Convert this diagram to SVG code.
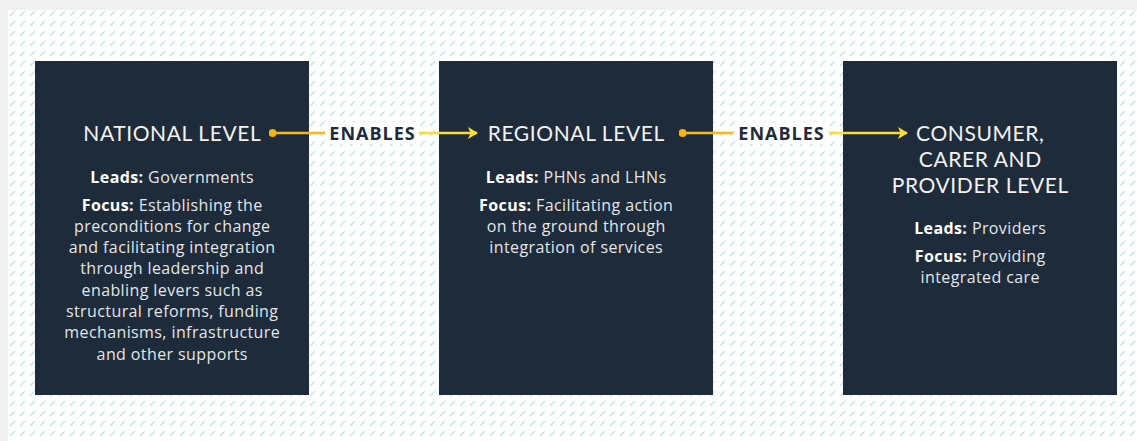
<svg xmlns="http://www.w3.org/2000/svg" width="1137" height="441" viewBox="0 0 1137 441">
  <style>
    .box { fill: #1d2b3a; }
    .title { font-family: Lato, "Liberation Sans", sans-serif; font-size: 21px; letter-spacing: 0.6px; fill: #f2f2f2; text-anchor: middle; }
    .body { font-family: "Open Sans", "Liberation Sans", sans-serif; font-size: 16px; letter-spacing: 0.4px; fill: #e4e6e8; text-anchor: middle; }
    .b { font-weight: bold; fill: #ffffff; }
    .lbl { font-family: "Open Sans", "Liberation Sans", sans-serif; font-size: 18px; letter-spacing: 1px; font-weight: bold; fill: #1d2b3a; text-anchor: middle; }
    .lineL { stroke: #f7ba12; stroke-width: 2.5; fill: none; }
    .lineR { stroke: #fbdc32; stroke-width: 2.5; fill: none; }
  </style>
  <defs>
    <pattern id="dash" x="8" y="10" width="10" height="10" patternUnits="userSpaceOnUse">
      <line x1="2.5" y1="5.5" x2="6.5" y2="1.5" stroke="#c4e7eb" stroke-width="1.6" stroke-linecap="round"/>
    </pattern>
    <marker id="arrow" viewBox="0 0 10 10" refX="9" refY="5" markerWidth="10" markerHeight="12" markerUnits="userSpaceOnUse" orient="auto" preserveAspectRatio="none">
      <path d="M0,0 L10,5 L0,10 L2.5,5 Z" fill="#fbdc32"/>
    </marker>
    <marker id="dot" viewBox="0 0 10 10" refX="5" refY="5" markerWidth="8" markerHeight="8" markerUnits="userSpaceOnUse">
      <circle cx="5" cy="5" r="5" fill="#f5b40f"/>
    </marker>
  </defs>

  <rect x="0" y="0" width="1137" height="441" fill="#f0f0f0"/>
  <rect x="8" y="10" width="1129" height="431" fill="#ffffff"/>
  <rect x="8" y="10" width="1129" height="431" fill="url(#dash)"/>

  <g id="node-national">
    <rect class="box" x="35" y="61" width="274" height="334"/>
    <text class="title" x="172.3" y="141">NATIONAL LEVEL</text>
    <text class="body" x="172.2" y="183"><tspan class="b">Leads:</tspan> Governments</text>
    <text class="body" x="172.2" y="210.5"><tspan class="b">Focus:</tspan> Establishing the</text>
    <text class="body" x="172.2" y="231.8">preconditions for change</text>
    <text class="body" x="172.2" y="253.1">and facilitating integration</text>
    <text class="body" x="172.2" y="274.4">through leadership and</text>
    <text class="body" x="172.2" y="295.7">enabling levers such as</text>
    <text class="body" x="172.2" y="317">structural reforms, funding</text>
    <text class="body" x="172.2" y="338.3">mechanisms, infrastructure</text>
    <text class="body" x="172.2" y="359.6">and other supports</text>
  </g>

  <g id="node-regional">
    <rect class="box" x="439" y="61" width="274" height="334"/>
    <text class="title" x="576.3" y="141">REGIONAL LEVEL</text>
    <text class="body" x="576.2" y="183"><tspan class="b">Leads:</tspan> PHNs and LHNs</text>
    <text class="body" x="576.2" y="210.5"><tspan class="b">Focus:</tspan> Facilitating action</text>
    <text class="body" x="576.2" y="231.8">on the ground through</text>
    <text class="body" x="576.2" y="253.1">integration of services</text>
  </g>

  <g id="node-consumer">
    <rect class="box" x="843" y="61" width="274" height="334"/>
    <text class="title"><tspan x="980.3" y="141">CONSUMER,</tspan><tspan x="980.3" y="167">CARER AND</tspan><tspan x="980.3" y="193">PROVIDER LEVEL</tspan></text>
    <text class="body" x="980.2" y="234"><tspan class="b">Leads:</tspan> Providers</text>
    <text class="body" x="980.2" y="261.5"><tspan class="b">Focus:</tspan> Providing</text>
    <text class="body" x="980.2" y="283">integrated care</text>
  </g>

  <g id="connectors">
    <g id="edge-national-regional">
      <line class="lineL" x1="272.5" y1="133" x2="325" y2="133" marker-start="url(#dot)"/>
      <rect x="327" y="122" width="90" height="22" fill="#ffffff"/>
      <text class="lbl" x="372.5" y="139.5">ENABLES</text>
      <line class="lineR" x1="419" y1="133" x2="477" y2="133" marker-end="url(#arrow)"/>
    </g>
    <g id="edge-regional-consumer">
      <line class="lineL" x1="682.5" y1="133" x2="733" y2="133" marker-start="url(#dot)"/>
      <rect x="736" y="122" width="90" height="22" fill="#ffffff"/>
      <text class="lbl" x="781.5" y="139.5">ENABLES</text>
      <line class="lineR" x1="829" y1="133" x2="907" y2="133" marker-end="url(#arrow)"/>
    </g>
  </g>
</svg>
